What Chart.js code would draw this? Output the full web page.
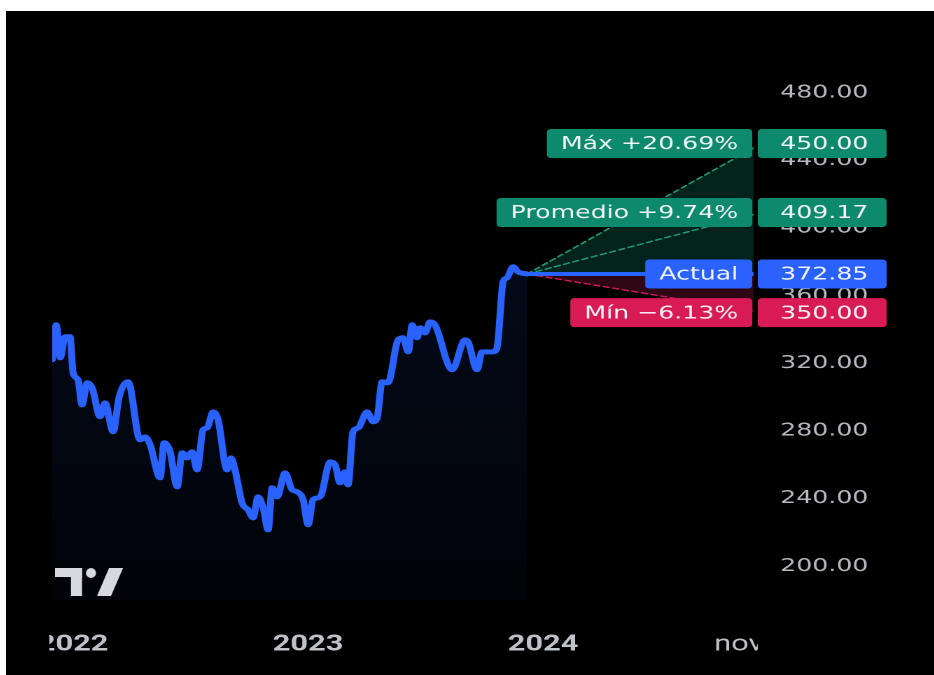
<!DOCTYPE html>
<html>
<head>
<meta charset="utf-8">
<script src="https://cdn.jsdelivr.net/npm/chart.js@4"></script>
<style>
  html, body { margin: 0; padding: 0; background: #fff; }
  #frame { position: absolute; left: 6px; top: 11px; width: 928px; height: 664px; background: #000; overflow: hidden; }
  /* the source screenshot is stretched sideways, so the whole chart is too */
  #stretch { width: 663px; height: 664px; transform: scaleX(1.4); transform-origin: 0 0; }
</style>
</head>
<body>
<div id="frame"><div id="stretch"><canvas id="c" width="663" height="664"></canvas></div></div>
<script>
// ── datos ──
const years = [
  2021.911, 2021.928, 2021.945, 2021.966, 2021.987, 2022.000, 2022.021, 2022.038, 2022.060, 2022.081,
  2022.115, 2022.136, 2022.170, 2022.196, 2022.234, 2022.285, 2022.306, 2022.328, 2022.370, 2022.387,
  2022.413, 2022.443, 2022.464, 2022.485, 2022.506, 2022.528, 2022.553, 2022.570, 2022.596, 2022.617,
  2022.655, 2022.672, 2022.689, 2022.719, 2022.745, 2022.766, 2022.787, 2022.809, 2022.830, 2022.847,
  2022.868, 2022.902, 2022.932, 2022.953, 2022.979, 2023.000, 2023.021, 2023.051, 2023.094, 2023.115,
  2023.136, 2023.157, 2023.170, 2023.191, 2023.213, 2023.251, 2023.277, 2023.294, 2023.315, 2023.340,
  2023.383, 2023.404, 2023.426, 2023.443, 2023.464, 2023.477, 2023.498, 2023.519, 2023.540, 2023.613,
  2023.668, 2023.681, 2023.719, 2023.740, 2023.787, 2023.804, 2023.830, 2023.847, 2023.872, 2023.894,
  2023.932
];
const prices = [
  322.1, 342.8, 323.3, 335.7, 335.7, 314.4, 310.2, 295.4, 308.5, 305.5,
  288.4, 296.6, 279.5, 300.2, 309.1, 274.7, 276.5, 271.8, 252.3, 273.0,
  267.6, 246.9, 267.1, 264.1, 267.6, 257.0, 280.7, 281.8, 291.3, 286.6,
  257.0, 264.1, 257.0, 237.5, 233.3, 228.6, 241.0, 234.5, 221.5, 246.4,
  241.0, 255.2, 245.2, 244.0, 239.3, 224.5, 239.3, 241.0, 261.7, 260.0,
  249.3, 255.8, 248.1, 279.5, 281.8, 291.3, 285.4, 287.8, 309.1, 308.5,
  333.9, 335.1, 326.8, 342.8, 335.1, 341.0, 338.0, 344.5, 342.8, 316.2,
  333.9, 332.7, 316.2, 326.8, 326.8, 329.2, 368.2, 370.6, 377.1, 374.1,
  372.85
];
const xTickValues = [2022, 2023, 2024, 2024.833];
const xTickLabels = ['2022', '2023', '2024', 'nov'];
const yTickValues = [200, 240, 280, 320, 360, 400, 440, 480];

const targetNames  = ['Máx', 'Promedio', 'Mín'];
const targetValues = [450.00, 409.17, 350.00];
const targetYear   = 2024.93;
const currentName  = 'Actual';

// ── colores ──
const BLUE  = '#2962ff';
const GREEN = '#0d8a6d';
const RED   = '#d81b55';
const GREEN_FILL = 'rgba(8,153,129,0.22)';
const RED_FILL   = 'rgba(216,27,85,0.22)';

const lastYear  = years[years.length - 1];
const lastPrice = prices[prices.length - 1];
const pct = v => {
  const p = (v / lastPrice - 1) * 100;
  return (p >= 0 ? '+' : '−') + Math.abs(p).toFixed(2) + '%';
};
const seg = v => [{ x: lastYear, y: lastPrice }, { x: targetYear, y: v }];

function areaGradient(c) {
  const a = c.chart.chartArea;
  if (!a) return 'transparent';
  const g = c.chart.ctx.createLinearGradient(0, a.top, 0, a.bottom);
  g.addColorStop(0, 'rgba(41,98,255,0.15)');
  g.addColorStop(1, 'rgba(41,98,255,0.03)');
  return g;
}

// ── etiquetas, logo ──
const overlay = {
  id: 'overlay',
  afterDraw(chart) {
    const { ctx, chartArea: a, scales: { y } } = chart;
    ctx.save();

    // recorte de las etiquetas del eje de tiempo
    ctx.fillStyle = '#000';
    ctx.fillRect(0, a.bottom + 1, a.left - 2, chart.height - a.bottom);
    ctx.fillRect(a.right + 3, a.bottom + 1, 70, chart.height - a.bottom);

    const rows = [
      [targetNames[0] + ' ' + pct(targetValues[0]), targetValues[0], GREEN],
      [targetNames[1] + ' ' + pct(targetValues[1]), targetValues[1], GREEN],
      [currentName, lastPrice, BLUE],
      [targetNames[2] + ' ' + pct(targetValues[2]), targetValues[2], RED],
    ];
    ctx.font = '18px "DejaVu Sans"';
    ctx.textBaseline = 'middle';
    rows.forEach(([label, v, col]) => {
      const py = y.getPixelForValue(v);
      const h = 29, top = py - h / 2;
      const w = ctx.measureText(label).width + 20;
      ctx.fillStyle = col;
      ctx.beginPath(); ctx.roundRect(a.right - 1 - w, top, w, h, 3); ctx.fill();
      ctx.beginPath(); ctx.roundRect(a.right + 3, top, 92, h, 3); ctx.fill();
      ctx.fillStyle = '#f1f3f6';
      ctx.textAlign = 'right';
      ctx.fillText(label, a.right - 11, py + 1);
      ctx.textAlign = 'left';
      ctx.fillText(v.toFixed(2), a.right + 19, py + 1);
    });

    // logo
    const L = a.left, B = a.bottom;
    ctx.fillStyle = '#d7d9de';
    ctx.fillRect(L + 2, B - 32, 19.3, 9);
    ctx.fillRect(L + 13.4, B - 32, 7.9, 28);
    ctx.beginPath(); ctx.ellipse(L + 27.7, B - 27, 3.6, 5, 0, 0, Math.PI * 2); ctx.fill();
    ctx.beginPath();
    ctx.moveTo(L + 32, B - 4); ctx.lineTo(L + 40.6, B - 32); ctx.lineTo(L + 50.6, B - 32); ctx.lineTo(L + 42, B - 4);
    ctx.closePath(); ctx.fill();

    ctx.restore();
  }
};

new Chart(document.getElementById('c'), {
  type: 'line',
  data: {
    datasets: [
      { data: years.map((x, i) => ({ x, y: prices[i] })), borderColor: BLUE, borderWidth: 5,
        fill: 'start', backgroundColor: areaGradient, cubicInterpolationMode: 'monotone', order: 0 },
      { data: seg(targetValues[0]), borderColor: '#1f9675', borderWidth: 1.5, borderDash: [4, 3],
        fill: { target: 3, above: GREEN_FILL, below: GREEN_FILL }, clip: 0, order: 3 },
      { data: seg(targetValues[1]), borderColor: '#1f9675', borderWidth: 1.5, borderDash: [4, 3],
        fill: false, clip: 0, order: 2 },
      { data: seg(lastPrice), borderColor: BLUE, borderWidth: 4, fill: false, clip: 0, order: 1 },
      { data: seg(targetValues[2]), borderColor: '#c8185a', borderWidth: 1.5, borderDash: [4, 3],
        fill: { target: 3, above: RED_FILL, below: RED_FILL }, clip: 0, order: 3 },
    ]
  },
  options: {
    responsive: false,
    animation: false,
    devicePixelRatio: 2,
    layout: { padding: { left: 33, top: 48, right: 0, bottom: 0 } },
    elements: { point: { radius: 0 }, line: { borderJoinStyle: 'round', borderCapStyle: 'round' } },
    plugins: { legend: { display: false }, tooltip: { enabled: false } },
    scales: {
      x: {
        type: 'linear', min: 2021.911, max: 2024.896,
        grid: { display: false, drawTicks: false }, border: { display: false },
        afterBuildTicks: s => { s.ticks = xTickValues.map(v => ({ value: v })); },
        afterFit: s => { s.height = 75; s.paddingLeft = 0; s.paddingRight = 0; },
        ticks: {
          autoSkip: false, maxRotation: 0, padding: 32, color: '#bfc2c8',
          font: c => ({ family: 'Roboto', size: 22, weight: /^\d+$/.test(xTickLabels[c.index]) ? 'bold' : 'normal' }),
          callback: (v, i) => xTickLabels[i]
        }
      },
      y: {
        position: 'right', min: 180, max: 500,
        grid: { display: false, drawTicks: false }, border: { display: false },
        afterBuildTicks: s => { s.ticks = yTickValues.map(v => ({ value: v })); },
        afterFit: s => { s.width = 129; s.paddingTop = 0; s.paddingBottom = 0; },
        ticks: { padding: 19, color: '#b5b8bf', font: { family: 'DejaVu Sans', size: 18 },
          callback: v => v.toFixed(2) }
      }
    }
  },
  plugins: [overlay]
});
</script>
</body>
</html>
